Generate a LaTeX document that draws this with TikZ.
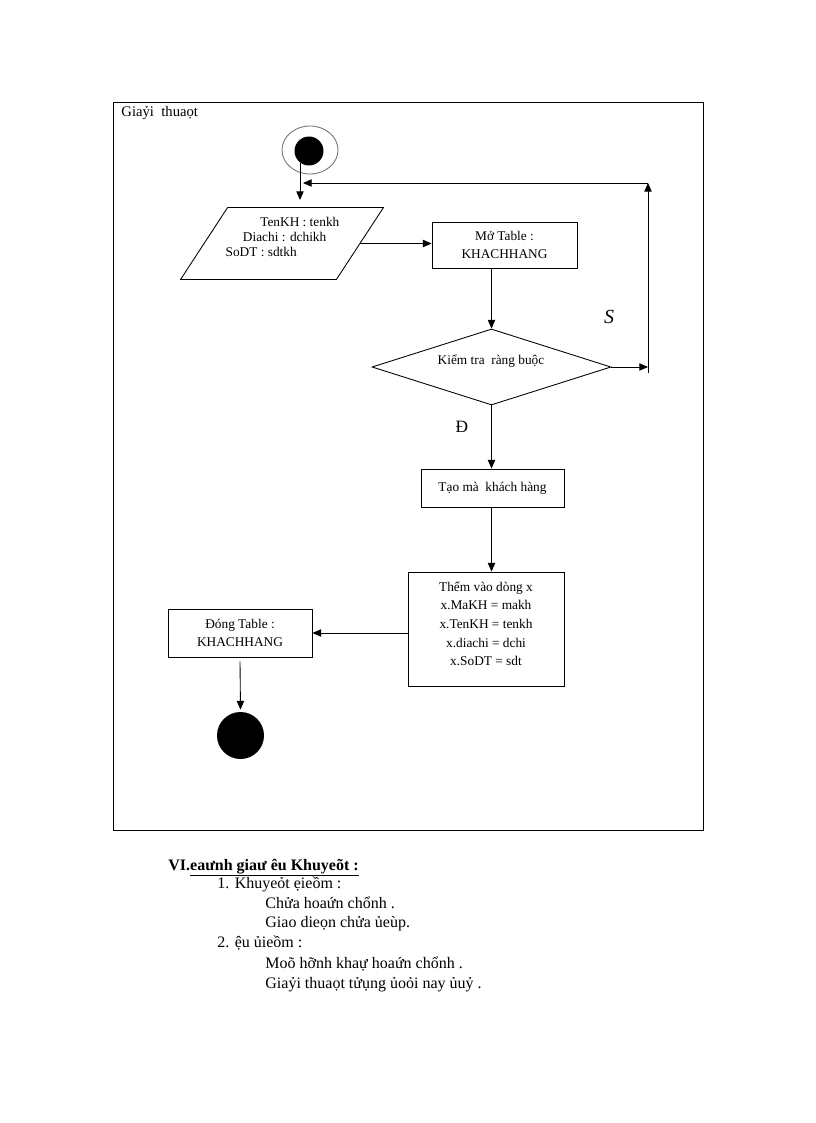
\documentclass[tikz,border=0pt]{standalone}
\usepackage{fontspec}
\setmainfont{Liberation Serif}
\usetikzlibrary{arrows.meta,shapes.geometric,calc}
\def\pxu{0.75pt}
\begin{document}
\begin{tikzpicture}[x=0.75pt,y=-0.75pt,
  line width=0.65pt,
  dfont/.style={font=\fontsize{10}{13.5}\selectfont},
  box/.style={draw,rectangle,inner sep=0pt,align=center,dfont},
  diabox/.style={draw,diamond,inner sep=0pt,aspect=3.1,align=center,dfont},
  plain/.style={inner sep=0pt,align=left},
  arr/.style={-{Triangle[length=6.5pt,width=5.5pt]}},
  body/.style={inner sep=0pt,anchor=base west,font=\fontsize{12}{14}\selectfont}]
\useasboundingbox (0,0) rectangle (816,1123);
\fill[white] (0,0) rectangle (816,1123);

% frame
\node[draw,rectangle,inner sep=0pt,minimum width=590*\pxu,minimum height=728*\pxu] (frame) at (408,466) {};
\node[plain,anchor=west,font=\fontsize{11}{13}\selectfont] (title) at (121,113) {Giaỷi\ \ thuaọt};

% start
\node[draw=black!55,ellipse,minimum width=56*\pxu,minimum height=48*\pxu,inner sep=0pt] (start) at (310,150) {};
\node[fill=black,circle,minimum size=29*\pxu,inner sep=0pt] (startdot) at (309,151) {};

% input parallelogram
\node[inner sep=0pt,minimum width=155*\pxu,minimum height=71*\pxu] (inp) at (282,243.5) {};
\draw ($(inp.north west)+(23.5,0)$) -- ($(inp.north east)+(23.5,0)$) -- ($(inp.south east)+(-23.5,0)$) -- ($(inp.south west)+(-23.5,0)$) -- cycle;
\node[plain,dfont,font=\fontsize{10}{11.6}\selectfont] (inptext) at (282.5,237) {\hspace*{26pt}TenKH : tenkh\\\hspace*{13pt}Diachi : dchikh\\SoDT : sdtkh};

% boxes
\node[box,minimum width=145*\pxu,minimum height=46*\pxu] (mo) at (504.5,245) {Mở Table :\\KHACHHANG};
\node[diabox,minimum width=239*\pxu,minimum height=76*\pxu] (dia) at (491.5,367) {};
\node[inner sep=0pt,dfont] (diatext) at (491,361) {Kiểm tra\ \ ràng buộc};
\node[box,minimum width=143*\pxu,minimum height=38*\pxu] (tao) at (492.5,488) {Tạo mà\ \ khách hàng};
\node[box,minimum width=156*\pxu,minimum height=114*\pxu,font=\fontsize{10}{14}\selectfont] (them) at (486,629) {Thểm vào dòng x\\x.MaKH = makh\\x.TenKH = tenkh\\x.diachi = dchi\\x.SoDT = sdt\\[-6pt]};
\node[box,minimum width=144*\pxu,minimum height=48*\pxu] (dong) at (240,633) {Đóng Table :\\KHACHHANG};
\node[fill=black,circle,minimum size=47*\pxu,inner sep=0pt] (end) at (240.5,735.5) {};

% labels
\node[inner sep=0pt,font=\fontsize{15}{15}\itshape] (slab) at (609,317) {S};
\node[inner sep=0pt,font=\fontsize{13}{13}\selectfont] (dlab) at (462,427) {Đ};

% connectors
\coordinate (s1) at (300,163);
\coordinate (s2) at (300,200);
\draw[arr] (s1) -- (s2);
\draw[arr] (inp.east) -- (inp.east -| mo.west);
\draw[arr] (mo.south -| dia.north) -- (dia.north);
\coordinate (r1) at (648,367);
\coordinate (r0) at (648,373);
\coordinate (r2) at (648,183);
\coordinate (r3) at (303,183);
\draw[arr] (dia.east) -- (r1);
\draw[arr] (r0) -- (r2);
\draw[arr] (r2) -- (r3);
\draw[arr] (dia.south) -- (dia.south |- tao.north);
\draw[arr] (tao.south -| dia.south) -- (dia.south |- them.north);
\draw[arr] (them.west |- dong.east) -- (dong.east);
\draw[arr] ($(dong.south)+(0,4)$) -- ($(end.north)+(0,-2)$);

% text below
\node[body] (h) at (168,870) {\textbf{VI.}\textbf{\underline{eaưnh giaư êu Khuyeõt :}}};
\node[body] (l1) at (217,888) {1. Khuyeỏt\ ẹieồm\ :};
\node[body] (l2) at (265,908) {Chửa hoaứn\ chổnh\ .};
\node[body] (l3) at (265,927) {Giao\ dieọn\ chửa ủeùp.};
\node[body] (l4) at (217,947) {2. ệu ủieồm\ :};
\node[body] (l5) at (265,968) {Moõ hỡnh\ khaự hoaứn\ chổnh\ .};
\node[body] (l6) at (265,988) {Giaỷi\ thuaọt\ tửụng\ ủoỏi nay ủuỷ\ .};
\end{tikzpicture}
\end{document}
